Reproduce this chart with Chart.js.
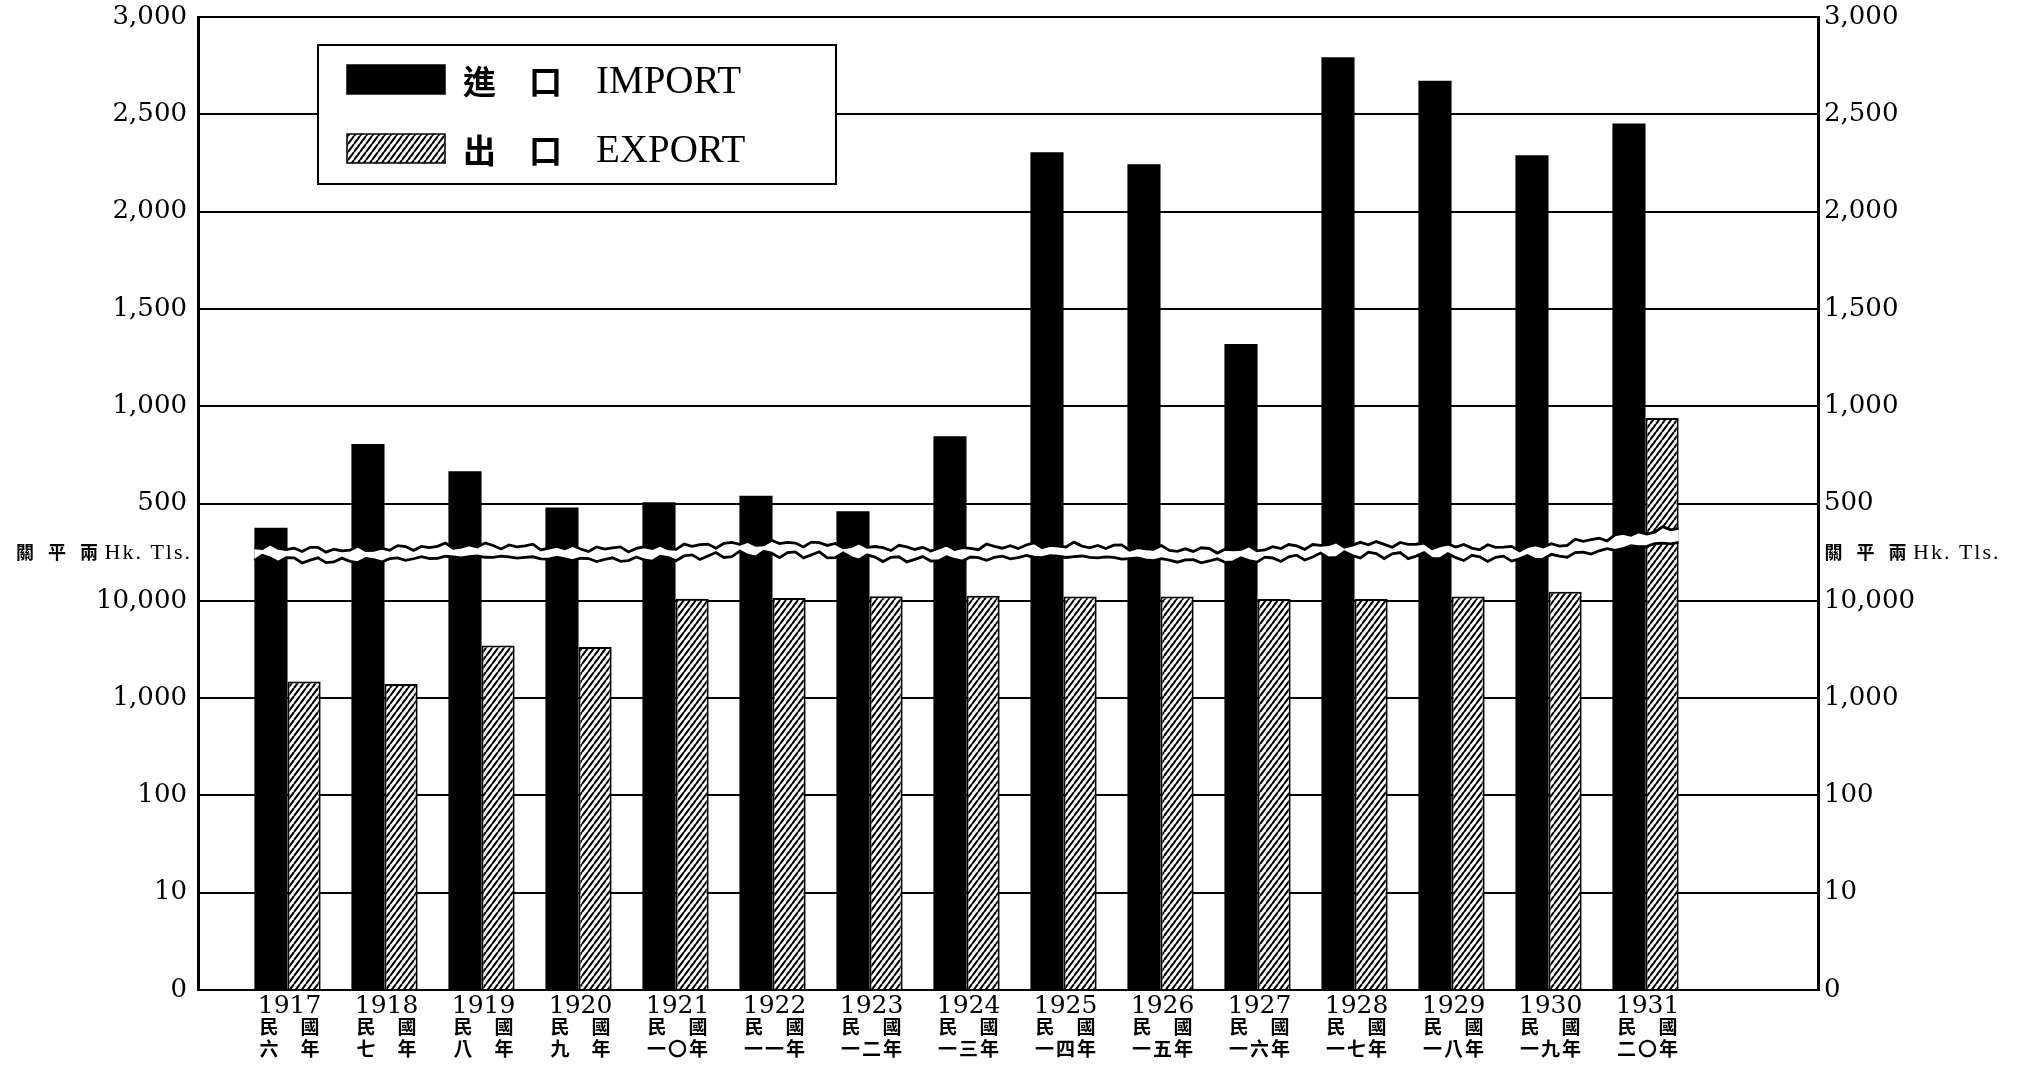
<!DOCTYPE html>
<html>
<head>
<meta charset="utf-8">
<script src="https://cdn.jsdelivr.net/npm/chart.js@4.4.1/dist/chart.umd.min.js"></script>
<style>
  html, body { margin: 0; padding: 0; background: #fff; }
  #chart { display: block; }
</style>
</head>
<body>
<canvas id="chart" width="2026" height="1068"></canvas>
<script>
/* Données */
const years = ['1917', '1918', '1919', '1920', '1921', '1922', '1923', '1924', '1925', '1926', '1927', '1928', '1929', '1930', '1931'];
const rocYears = ['六年', '七年', '八年', '九年', '一〇年', '一一年', '一二年', '一三年', '一四年', '一五年', '一六年', '一七年', '一八年', '一九年', '二〇年'];
const importValues = [375, 806, 666, 480, 507, 540, 460, 846, 2305, 2243, 1320, 2793, 2673, 2290, 2453];
const exportValues = [1480, 1400, 3470, 3360, 10500, 10700, 11150, 11250, 11050, 11050, 10450, 10450, 11100, 12400, 939];
const exportOnUpper = [false, false, false, false, false, false, false, false, false, false, false, false, false, false, true];
const lowerTicks = [0, 10, 100, 1000, 10000];
const upperTicks = [500, 1000, 1500, 2000, 2500, 3000];
const seriesNames = ['進　口|IMPORT', '出　口|EXPORT'];
const unitLabel = ['關平兩', 'Hk. Tls.'];

// axe coupé : en bas échelle log (0, 10 ... 10,000), en haut linéaire par 500
const upperBase = lowerTicks.length - 1;
const upperStep = upperTicks[1] - upperTicks[0];
const lowerPos = v => (v <= 1 ? 0 : Math.log10(v));
const upperPos = v => upperBase + v / upperStep;
const tickLabels = lowerTicks.concat(upperTicks).map(v => v.toLocaleString('en-US'));

const CJK = '"Noto Sans CJK TC", "Noto Sans CJK JP", sans-serif';
const SERIF = '"Liberation Serif", "DejaVu Serif", serif';
const DSERIF = '"DejaVu Serif", serif';

/* Motif hachuré pour les exportations */
function makeHatch() {
    const c = document.createElement('canvas');
    c.width = 6; c.height = 8;
    const g = c.getContext('2d');
    g.fillStyle = '#fff';
    g.fillRect(0, 0, 6, 8);
    g.strokeStyle = '#000';
    g.lineWidth = 2;
    g.beginPath();
    [-6, 0, 6].forEach(dx => { g.moveTo(dx, 8); g.lineTo(dx + 6, 0); });
    g.stroke();
    return g.createPattern(c, 'repeat');
}
const hatch = makeHatch();

/* Bande en zigzag de la coupure */
const breakBand = {
    id: 'breakBand',
    afterDatasetsDraw(chart) {
        const { ctx } = chart;
        const first = chart.getDatasetMeta(0).data[0];
        const lastBars = chart.getDatasetMeta(1).data;
        const last = lastBars[lastBars.length - 1];
        const x0 = first.x - first.width / 2;
        const x1 = last.x + last.width / 2;
        const yc = chart.scales.y.getPixelForValue(upperBase + 0.5);
        const n = Math.ceil((x1 - x0) / 8);
        const step = (x1 - x0) / n;
        const top = [], bot = [];
        for (let i = 0; i <= n; i++) {
            const x = x0 + i * step;
            const t = Math.max(0, (x - (x1 - 150)) / 150);
            const mid = yc + 2.2 * Math.sin((x - x0) / 47) + 1.4 * Math.sin((x - x0) / 113) - 15 * Math.pow(t, 1.3);
            const half = 5.5 + 1.5 * t;
            top.push([x, mid - half + 2.2 * Math.sin(i * 2.3) + 1.4 * Math.sin(i * 5.1 + 1)]);
            bot.push([x, mid + half + 2.2 * Math.sin(i * 1.9 + 2) + 1.4 * Math.sin(i * 4.3 + 0.5)]);
        }
        ctx.save();
        ctx.beginPath();
        top.forEach(([x, y], i) => (i ? ctx.lineTo(x, y) : ctx.moveTo(x, y)));
        for (let i = bot.length - 1; i >= 0; i--) ctx.lineTo(bot[i][0], bot[i][1]);
        ctx.closePath();
        ctx.fillStyle = '#fff';
        ctx.fill();
        ctx.strokeStyle = '#000';
        ctx.lineWidth = 2.8;
        [top, bot].forEach(edge => {
            ctx.beginPath();
            edge.forEach(([x, y], i) => (i ? ctx.lineTo(x, y) : ctx.moveTo(x, y)));
            ctx.stroke();
        });
        ctx.restore();
    }
};

// caractères chinois espacés un par un, groupe centré sur cx
function drawChars(ctx, text, cx, y, pitch) {
    const chars = Array.from(text);
    const start = cx - pitch * (chars.length - 1) / 2;
    chars.forEach((ch, k) => ctx.fillText(ch, start + k * pitch, y));
}

/* Légende, libellés des années et unité */
const decorations = {
    id: 'decorations',
    afterDraw(chart) {
        const { ctx, chartArea: area } = chart;
        const xs = chart.scales.x;
        ctx.save();

        // libellés sous l'axe
        ctx.fillStyle = '#000';
        ctx.textAlign = 'center';
        ctx.textBaseline = 'middle';
        years.forEach((yr, i) => {
            const cx = xs.getPixelForValue(i) + 2;
            ctx.font = '25px ' + DSERIF;
            ctx.fillText(yr, cx, area.bottom + 16);
            ctx.font = 'bold 19px ' + CJK;
            drawChars(ctx, '民國', cx, area.bottom + 37, 41);
            const roc = rocYears[i];
            drawChars(ctx, roc, cx, area.bottom + 59, roc.length === 2 ? 41 : 21);
        });

        // unité à gauche et à droite
        const uy = chart.scales.y.getPixelForValue(upperBase + 0.5);
        const cjkW = 19 * 3 + 13 * 2;
        const drawUnit = (x, align) => {
            ctx.font = '22px ' + SERIF;
            ctx.letterSpacing = '2px';
            const enW = ctx.measureText(unitLabel[1]).width;
            const start = align === 'right' ? x - cjkW - 6 - enW : x;
            ctx.textAlign = 'left';
            ctx.fillText(unitLabel[1], start + cjkW + 6, uy + 1);
            ctx.letterSpacing = '0px';
            ctx.textAlign = 'center';
            ctx.font = 'bold 18px ' + CJK;
            drawChars(ctx, unitLabel[0], start + cjkW / 2, uy, 32);
        };
        drawUnit(area.left - 6, 'right');
        drawUnit(area.right + 6, 'left');

        // légende
        const bx = area.left + 120, by = area.top + 28, bw = 518, bh = 139;
        ctx.fillStyle = '#fff';
        ctx.fillRect(bx, by, bw, bh);
        ctx.strokeStyle = '#000';
        ctx.lineWidth = 2;
        ctx.strokeRect(bx, by, bw, bh);
        chart.data.datasets.forEach((ds, i) => {
            const sy = by + 20 + i * 69;
            ctx.fillStyle = ds.backgroundColor;
            ctx.fillRect(bx + 29, sy, 98, 29);
            ctx.lineWidth = 1.5;
            ctx.strokeRect(bx + 29, sy, 98, 29);
            const [zh, en] = ds.label.split('|');
            const ry = sy + 16;
            ctx.fillStyle = '#000';
            ctx.textAlign = 'left';
            ctx.font = 'bold 33px ' + CJK;
            ctx.fillText(zh, bx + 145, ry);
            ctx.font = '39px ' + SERIF;
            ctx.fillText(en, bx + 278, ry + 2);
        });
        ctx.restore();
    }
};

const axisFont = { family: DSERIF, size: 26, lineHeight: 1.2 };

new Chart(document.getElementById('chart'), {
    type: 'bar',
    data: {
        datasets: [
            {
                label: seriesNames[0],
                data: importValues.map((v, i) => ({ x: i, y: upperPos(v) })),
                backgroundColor: '#000',
                borderWidth: 0,
                categoryPercentage: 0.74,
                barPercentage: 1
            },
            {
                label: seriesNames[1],
                data: exportValues.map((v, i) => ({ x: i, y: exportOnUpper[i] ? upperPos(v) : lowerPos(v) })),
                backgroundColor: hatch,
                borderColor: '#000',
                borderWidth: 2,
                categoryPercentage: 0.74,
                barPercentage: 1
            }
        ]
    },
    options: {
        responsive: false,
        animation: false,
        devicePixelRatio: 1,
        layout: { padding: 0 },
        plugins: {
            legend: { display: false },
            tooltip: { enabled: false }
        },
        scales: {
            x: {
                type: 'linear',
                min: -0.923,
                max: 15.778,
                offset: false,
                afterFit(scale) { scale.height = 78; },
                ticks: { display: false },
                grid: { display: false, drawTicks: false },
                border: { display: false }
            },
            y: {
                type: 'linear',
                position: 'left',
                min: 0,
                max: 10,
                afterFit(scale) { scale.width = 198; scale.paddingTop = 17; scale.paddingBottom = 0; },
                ticks: { stepSize: 1, padding: 11, color: '#000', font: axisFont, callback: v => tickLabels[v] },
                grid: { color: '#000', lineWidth: 2, drawTicks: false },
                border: { color: '#000', width: 3 }
            },
            y2: {
                type: 'linear',
                position: 'right',
                min: 0,
                max: 10,
                afterFit(scale) { scale.width = 208; scale.paddingTop = 17; scale.paddingBottom = 0; },
                ticks: { stepSize: 1, padding: 6, color: '#000', font: axisFont, callback: v => tickLabels[v] },
                grid: { display: false, drawTicks: false },
                border: { color: '#000', width: 3 }
            }
        }
    },
    plugins: [breakBand, decorations]
});
</script>
</body>
</html>
